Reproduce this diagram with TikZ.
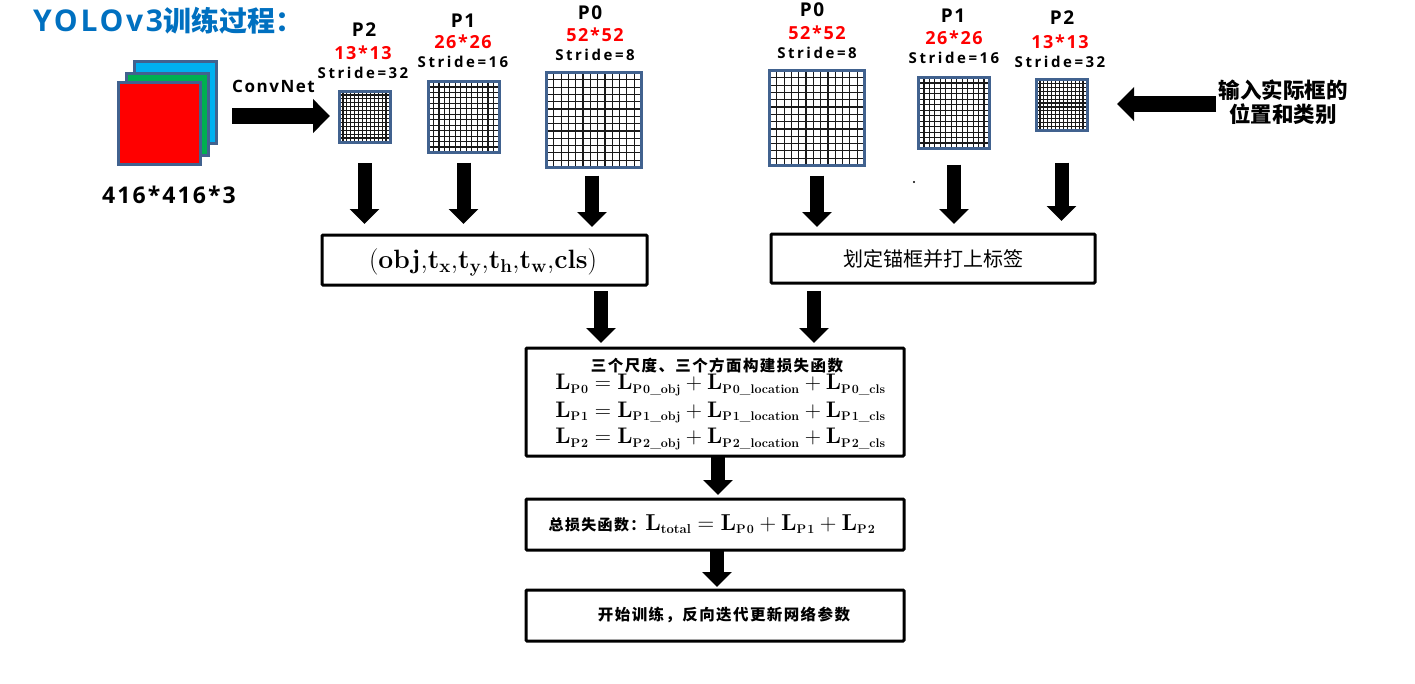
\documentclass[tikz,border=0pt]{standalone}
\usepackage{fix-cm}
\usepackage{amsmath,amssymb}
\usepackage[no-math]{fontspec}
\usepackage{xcolor}
\usepackage{tikz}
\usetikzlibrary{arrows.meta,positioning,calc}
\newfontfamily\latinfont[LetterSpace=9]{Open Sans}
\newfontfamily\latinwide[LetterSpace=17]{Open Sans}
\newfontfamily\cjkfont{Noto Sans CJK SC}
\newfontfamily\cjkwide[LetterSpace=9]{Noto Sans CJK SC}
\definecolor{inkblue}{HTML}{0070C0}
\definecolor{edgeblue}{HTML}{41628F}
\definecolor{chanblue}{HTML}{00B0F0}
\definecolor{changreen}{HTML}{00B050}
\newcommand{\fsz}[1]{\fontsize{#1}{#1}\selectfont}
\newcommand{\subt}[1]{\hbox{\fsz{12.5}\bfseries #1}}
\newcommand{\lossline}[1]{\mathbf{L}_{\subt{P\kern1pt#1}}=\mathbf{L}_{\subt{P\kern1pt#1\_obj}}+\mathbf{L}_{\subt{P\kern1pt#1\_location}}+\mathbf{L}_{\subt{P\kern1pt#1\_cls}}}

\begin{document}
\begin{tikzpicture}[x=1pt,y=-1pt,
  chan/.style={draw=edgeblue, line width=3pt, minimum size=#1, inner sep=0pt, outer sep=0pt},
  grid/.style={chan=#1, fill=white, path picture={
      \foreach \i in {1,...,12}{
        \draw[black!90, line width=1.2pt] ($(path picture bounding box.south west)!\i/13!(path picture bounding box.south east)$) -- ($(path picture bounding box.north west)!\i/13!(path picture bounding box.north east)$);
        \draw[black!90, line width=1.2pt] ($(path picture bounding box.south west)!\i/13!(path picture bounding box.north west)$) -- ($(path picture bounding box.south east)!\i/13!(path picture bounding box.north east)$);
      }}},
  scalename/.style={font=\latinfont\bfseries\fsz{19}, inner sep=0pt},
  scalesize/.style={font=\latinfont\bfseries\fsz{18}, text=red, inner sep=0pt},
  scalestride/.style={font=\latinwide\bfseries\fsz{15}, inner sep=0pt},
  flowbox/.style={draw, line width=3pt, minimum width=#1, inner sep=0pt, outer sep=0pt, rounded corners=1pt},
  cjklabel/.style={font=\cjkfont\bfseries\fsz{#1}, inner sep=0pt},
  blockarr/.style={-{Triangle[length=15pt,width=29pt]}, line width=14pt},
  widearr/.style={-{Triangle[length=17pt,width=33pt]}, line width=16pt}]
\useasboundingbox (0,0) rectangle (1415,683);
\node[anchor=west, text=inkblue, font=\cjkfont\bfseries\fsz{28}, inner sep=0pt] (title) at (33,21)
  {{\latinfont\fsz{30}YOLOv3}训练过程\symbol{"FF1A}};
\node[chan=82pt, fill=chanblue] (chanb) at (175.5,102.5) {};
\node[chan=82pt, fill=changreen] (chang) at (167,114.5) {};
\node[chan=82pt, fill=red] (chanr) at (159,123) {};
\node[font=\latinfont\bfseries\fsz{23}, inner sep=0pt] (insize) at (169,195) {416*416*3};
\node[font=\latinfont\bfseries\fsz{17}, inner sep=0pt] (convnet) at (273.5,86) {ConvNet};
\node[grid=51pt] (gridltwo) at (364.5,116.5) {};
\node[grid=71pt] (gridlone) at (463.5,117) {};
\node[grid=95pt] (gridlzero) at (594,120) {};
\node[grid=95pt] (gridrzero) at (817,118) {};
\node[grid=71pt] (gridrone) at (954,113) {};
\node[grid=51pt] (gridrtwo) at (1061.5,105) {};
\node[scalestride] (strideltwo) at (363,73) {Stride=32};
\node[scalesize, above=7pt of strideltwo] (sizeltwo) {13*13};
\node[scalename] (nameltwo) at (364,30) {P2};
\node[scalestride] (stridelone) at (463,62) {Stride=16};
\node[scalesize, above=7pt of stridelone] (sizelone) {26*26};
\node[scalename] (namelone) at (463,21) {P1};
\node[scalestride] (stridelzero) at (595,55) {Stride=8};
\node[scalesize, above=7pt of stridelzero] (sizelzero) {52*52};
\node[scalename] (namelzero) at (590,13) {P0};
\node[scalestride] (stridertzero) at (817,53) {Stride=8};
\node[scalesize, above=7pt of stridertzero] (sizerzero) {52*52};
\node[scalename] (namerzero) at (812,10) {P0};
\node[scalestride] (striderone) at (954,58) {Stride=16};
\node[scalesize, above=7pt of striderone] (sizerone) {26*26};
\node[scalename] (namerone) at (953,16) {P1};
\node[scalestride] (stridertwo) at (1060,62) {Stride=32};
\node[scalesize, above=7pt of stridertwo] (sizertwo) {13*13};
\node[scalename] (namertwo) at (1062,18) {P2};
\node[cjklabel=21.5, align=center] (truth) at (1283,102) {输入实际框的\\[2pt]位置和类别};
\node[circle, fill, inner sep=0.8pt] (speck) at (914,182) {};
\node[flowbox=325pt, minimum height=50pt] (headbox) at (484.5,260) {};
\node[inner sep=0pt, font=\fsz{26.5}] (headterms) at (483,262)
  {$\mathbf{(obj{,}t_x{,}t_y{,}t_h{,}t_w{,}cls)}$};
\node[flowbox=324pt, minimum height=49pt, font=\cjkfont\fsz{20}] (anchorbox) at (933,258.5) {划定锚框并打上标签};
\node[flowbox=378pt, minimum height=108pt] (lossbox) at (715,402) {};
\node[inner sep=0pt, font=\cjkwide\bfseries\fsz{15.5}] (losstitle) at (717,366) {三个尺度、三个方面构建损失函数};
\node[inner sep=0pt, align=center, font=\fsz{22.5}, anchor=north] (lossterms) at (720.5,374)
  {$\lossline{0}$\\[5pt]$\lossline{1}$\\[4pt]$\lossline{2}$};
\node[flowbox=378pt, minimum height=51pt] (totalbox) at (715,524.5) {};
\node[inner sep=0pt, font=\fsz{23}] (totalterms) at (712,524)
  {{\cjkwide\bfseries\fsz{15}总损失函数\symbol{"FF1A}}$\mathbf{L}_{\hbox{\fsz{13}\bfseries total}}=\mathbf{L}_{\subt{P\kern1pt0}}+\mathbf{L}_{\subt{P\kern1pt1}}+\mathbf{L}_{\subt{P\kern1pt2}}$};
\node[flowbox=378pt, minimum height=51pt] (trainbox) at (715,615.5) {};
\node[inner sep=0pt, font=\cjkwide\bfseries\fsz{15.5}] (trainlabel) at (724,615) {开始训练\symbol{"FF0C}反向迭代更新网络参数};
\draw[widearr, shorten >=9pt] (232,116) coordinate (convstart) -- (gridltwo.west |- convstart);
\draw[widearr, shorten >=30pt] (1216,104) coordinate (truthstart) -- (gridrtwo.east |- truthstart);
\draw[blockarr, shorten <=21pt, shorten >=11pt] (gridltwo.south) -- (gridltwo.south |- headbox.north);
\draw[blockarr, shorten <=10pt, shorten >=11pt] (gridlone.south) -- (gridlone.south |- headbox.north);
\draw[blockarr, shorten <=8pt, shorten >=8pt] ([xshift=-2pt]gridlzero.south) -- ([xshift=-2pt]gridlzero.south |- headbox.north);
\draw[blockarr, shorten <=10pt, shorten >=7pt] (gridrzero.south) -- (gridrzero.south |- anchorbox.north);
\draw[blockarr, shorten <=16pt, shorten >=10pt] (gridrone.south) -- (gridrone.south |- anchorbox.north);
\draw[blockarr, shorten <=32pt, shorten >=13pt] (gridrtwo.south) -- (gridrtwo.south |- anchorbox.north);
\draw[blockarr, shorten <=6pt, shorten >=5pt] (headbox.south -| 601,0) -- (lossbox.north -| 601,0);
\draw[blockarr, shorten <=8pt, shorten >=5pt] (anchorbox.south -| 814,0) -- (lossbox.north -| 814,0);
\draw[blockarr, shorten >=4pt] (lossbox.south -| 718,0) -- (totalbox.north -| 718,0);
\draw[blockarr, shorten >=3pt] (totalbox.south -| 717,0) -- (trainbox.north -| 717,0);
\end{tikzpicture}
\end{document}
